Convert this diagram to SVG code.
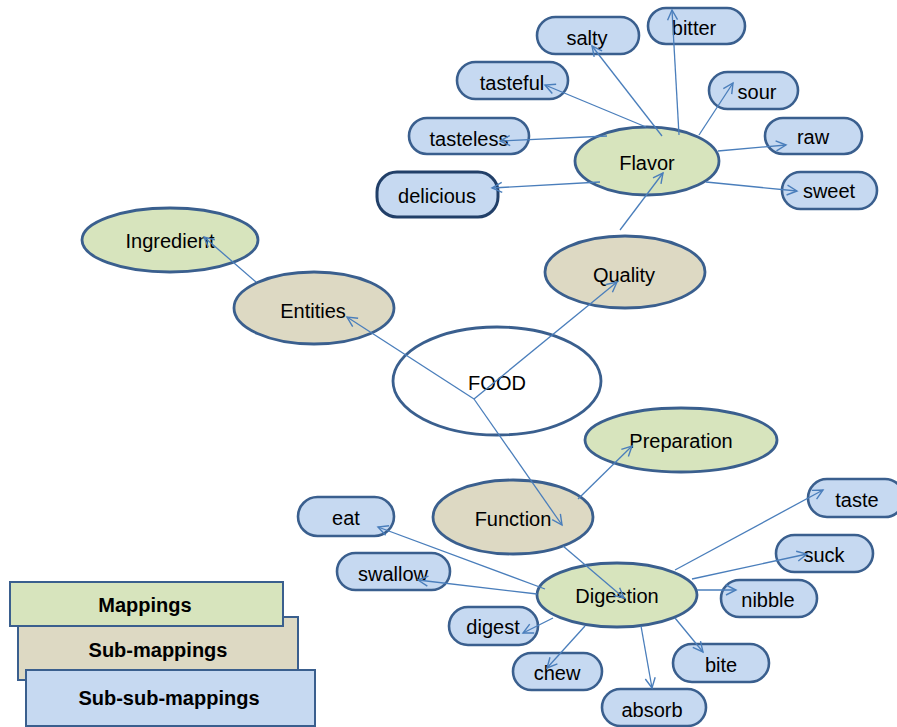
<svg xmlns="http://www.w3.org/2000/svg" width="897" height="727" viewBox="0 0 897 727">
<style>
text{font-family:"Liberation Sans",Arial,sans-serif;font-size:20px;fill:#000;text-anchor:middle}
.map{fill:#D7E4BD;stroke:#3A5F8E;stroke-width:2.8}
.sub{fill:#DDD9C3;stroke:#3A5F8E;stroke-width:2.8}
.pill{fill:#C6D9F1;stroke:#3A5F8E;stroke-width:2.6}
.root{fill:#fff;stroke:#3A5F8E;stroke-width:2.8}
.leg text{font-weight:bold}
.legbox{stroke:#3A5F8E;stroke-width:2}
#edges line{stroke:#4A7EBB;stroke-width:1.3;fill:none;marker-end:url(#arr)}
</style>
<defs>
<marker id="arr" markerUnits="userSpaceOnUse" markerWidth="14" markerHeight="14" refX="11" refY="6" orient="auto">
<path d="M1,1 L11,6 L1,11" fill="none" stroke="#4A7EBB" stroke-width="1.4"/>
</marker>
</defs>
<rect width="897" height="727" fill="#fff"/>

<g id="n-ingredient"><ellipse class="map" cx="170" cy="240" rx="88" ry="32"/><text x="170" y="248">Ingredient</text></g>
<g id="n-entities"><ellipse class="sub" cx="314" cy="308" rx="80" ry="36"/><text x="313" y="318">Entities</text></g>
<g id="n-food"><ellipse class="root" cx="497" cy="381" rx="104" ry="54"/><text x="497" y="390">FOOD</text></g>
<g id="n-quality"><ellipse class="sub" cx="625" cy="272" rx="80" ry="36"/><text x="624" y="282">Quality</text></g>
<g id="n-flavor"><ellipse class="map" cx="647" cy="161" rx="72" ry="34"/><text x="647" y="170">Flavor</text></g>
<g id="n-preparation"><ellipse class="map" cx="681" cy="440" rx="96" ry="32"/><text x="681" y="448">Preparation</text></g>
<g id="n-function"><ellipse class="sub" cx="513" cy="517" rx="80" ry="37"/><text x="513" y="526">Function</text></g>
<g id="n-digestion"><ellipse class="map" cx="617" cy="595" rx="80" ry="32"/><text x="617" y="603">Digestion</text></g>

<g id="n-salty"><rect class="pill" x="537" y="17" width="102" height="37" rx="18.5"/><text x="587" y="45">salty</text></g>
<g id="n-bitter"><rect class="pill" x="648" y="8" width="97" height="36" rx="18"/><text x="694" y="35">bitter</text></g>
<g id="n-tasteful"><rect class="pill" x="457" y="62" width="111" height="37" rx="18.5"/><text x="512" y="90">tasteful</text></g>
<g id="n-sour"><rect class="pill" x="709" y="72" width="89" height="37" rx="18.5"/><text x="757" y="99">sour</text></g>
<g id="n-tasteless"><rect class="pill" x="409" y="118" width="120" height="36" rx="18"/><text x="469" y="146">tasteless</text></g>
<g id="n-raw"><rect class="pill" x="765" y="118" width="97" height="36" rx="18"/><text x="813" y="144">raw</text></g>
<g id="n-delicious"><rect class="pill" x="377" y="172" width="121" height="45" rx="20" style="stroke:#213F68;stroke-width:3"/><text x="437" y="203">delicious</text></g>
<g id="n-sweet"><rect class="pill" x="782" y="172" width="95" height="37" rx="18.5"/><text x="829" y="198">sweet</text></g>

<g id="n-eat"><rect class="pill" x="298" y="497" width="96" height="39" rx="19.5"/><text x="346" y="525">eat</text></g>
<g id="n-swallow"><rect class="pill" x="337" y="553" width="113" height="37" rx="18.5"/><text x="393" y="581">swallow</text></g>
<g id="n-digest"><rect class="pill" x="449" y="607" width="89" height="38" rx="19"/><text x="493" y="634">digest</text></g>
<g id="n-chew"><rect class="pill" x="513" y="653" width="89" height="37" rx="18.5"/><text x="557" y="680">chew</text></g>
<g id="n-absorb"><rect class="pill" x="602" y="689" width="104" height="37" rx="18.5"/><text x="652" y="717">absorb</text></g>
<g id="n-bite"><rect class="pill" x="673" y="644" width="96" height="38" rx="19"/><text x="721" y="672">bite</text></g>
<g id="n-nibble"><rect class="pill" x="721" y="580" width="96" height="37" rx="18.5"/><text x="768" y="607">nibble</text></g>
<g id="n-suck"><rect class="pill" x="776" y="535" width="97" height="37" rx="18.5"/><text x="824" y="562">suck</text></g>
<g id="n-taste"><rect class="pill" x="808" y="479" width="96" height="38" rx="19"/><text x="857" y="507">taste</text></g>

<g id="edges">
<line x1="256" y1="282" x2="204" y2="237"/>
<line x1="474" y1="399" x2="347" y2="317"/>
<line x1="474" y1="399" x2="617" y2="282"/>
<line x1="474" y1="399" x2="562" y2="525"/>
<line x1="563" y1="546" x2="624" y2="598"/>
<line x1="578" y1="499" x2="632" y2="446"/>
<line x1="620" y1="230" x2="663" y2="173"/>
<line x1="662" y1="136" x2="592" y2="46"/>
<line x1="679" y1="135" x2="672" y2="10"/>
<line x1="646" y1="127" x2="545" y2="85"/>
<line x1="607" y1="136" x2="500" y2="141"/>
<line x1="699" y1="135" x2="733" y2="83"/>
<line x1="718" y1="151" x2="786" y2="145"/>
<line x1="600" y1="182" x2="492" y2="188"/>
<line x1="706" y1="182" x2="797" y2="191"/>
<line x1="545" y1="589" x2="378" y2="527"/>
<line x1="537" y1="594" x2="418" y2="580"/>
<line x1="553" y1="618" x2="523" y2="633"/>
<line x1="585" y1="626" x2="547" y2="668"/>
<line x1="641" y1="626" x2="652" y2="688"/>
<line x1="675" y1="618" x2="703" y2="652"/>
<line x1="697" y1="590" x2="736" y2="590"/>
<line x1="692" y1="579" x2="807" y2="554"/>
<line x1="675" y1="570" x2="823" y2="490"/>
</g>

<g id="legend" class="leg">
<g id="leg-sub"><rect class="legbox" x="18" y="617" width="280" height="63" fill="#DDD9C3"/><text x="158" y="657">Sub-mappings</text></g>
<g id="leg-map"><rect class="legbox" x="10" y="582" width="273" height="44" fill="#D7E4BD"/><text x="145" y="612">Mappings</text></g>
<g id="leg-subsub"><rect class="legbox" x="26" y="670" width="289" height="56" fill="#C6D9F1"/><text x="169" y="705">Sub-sub-mappings</text></g>
</g>
</svg>
